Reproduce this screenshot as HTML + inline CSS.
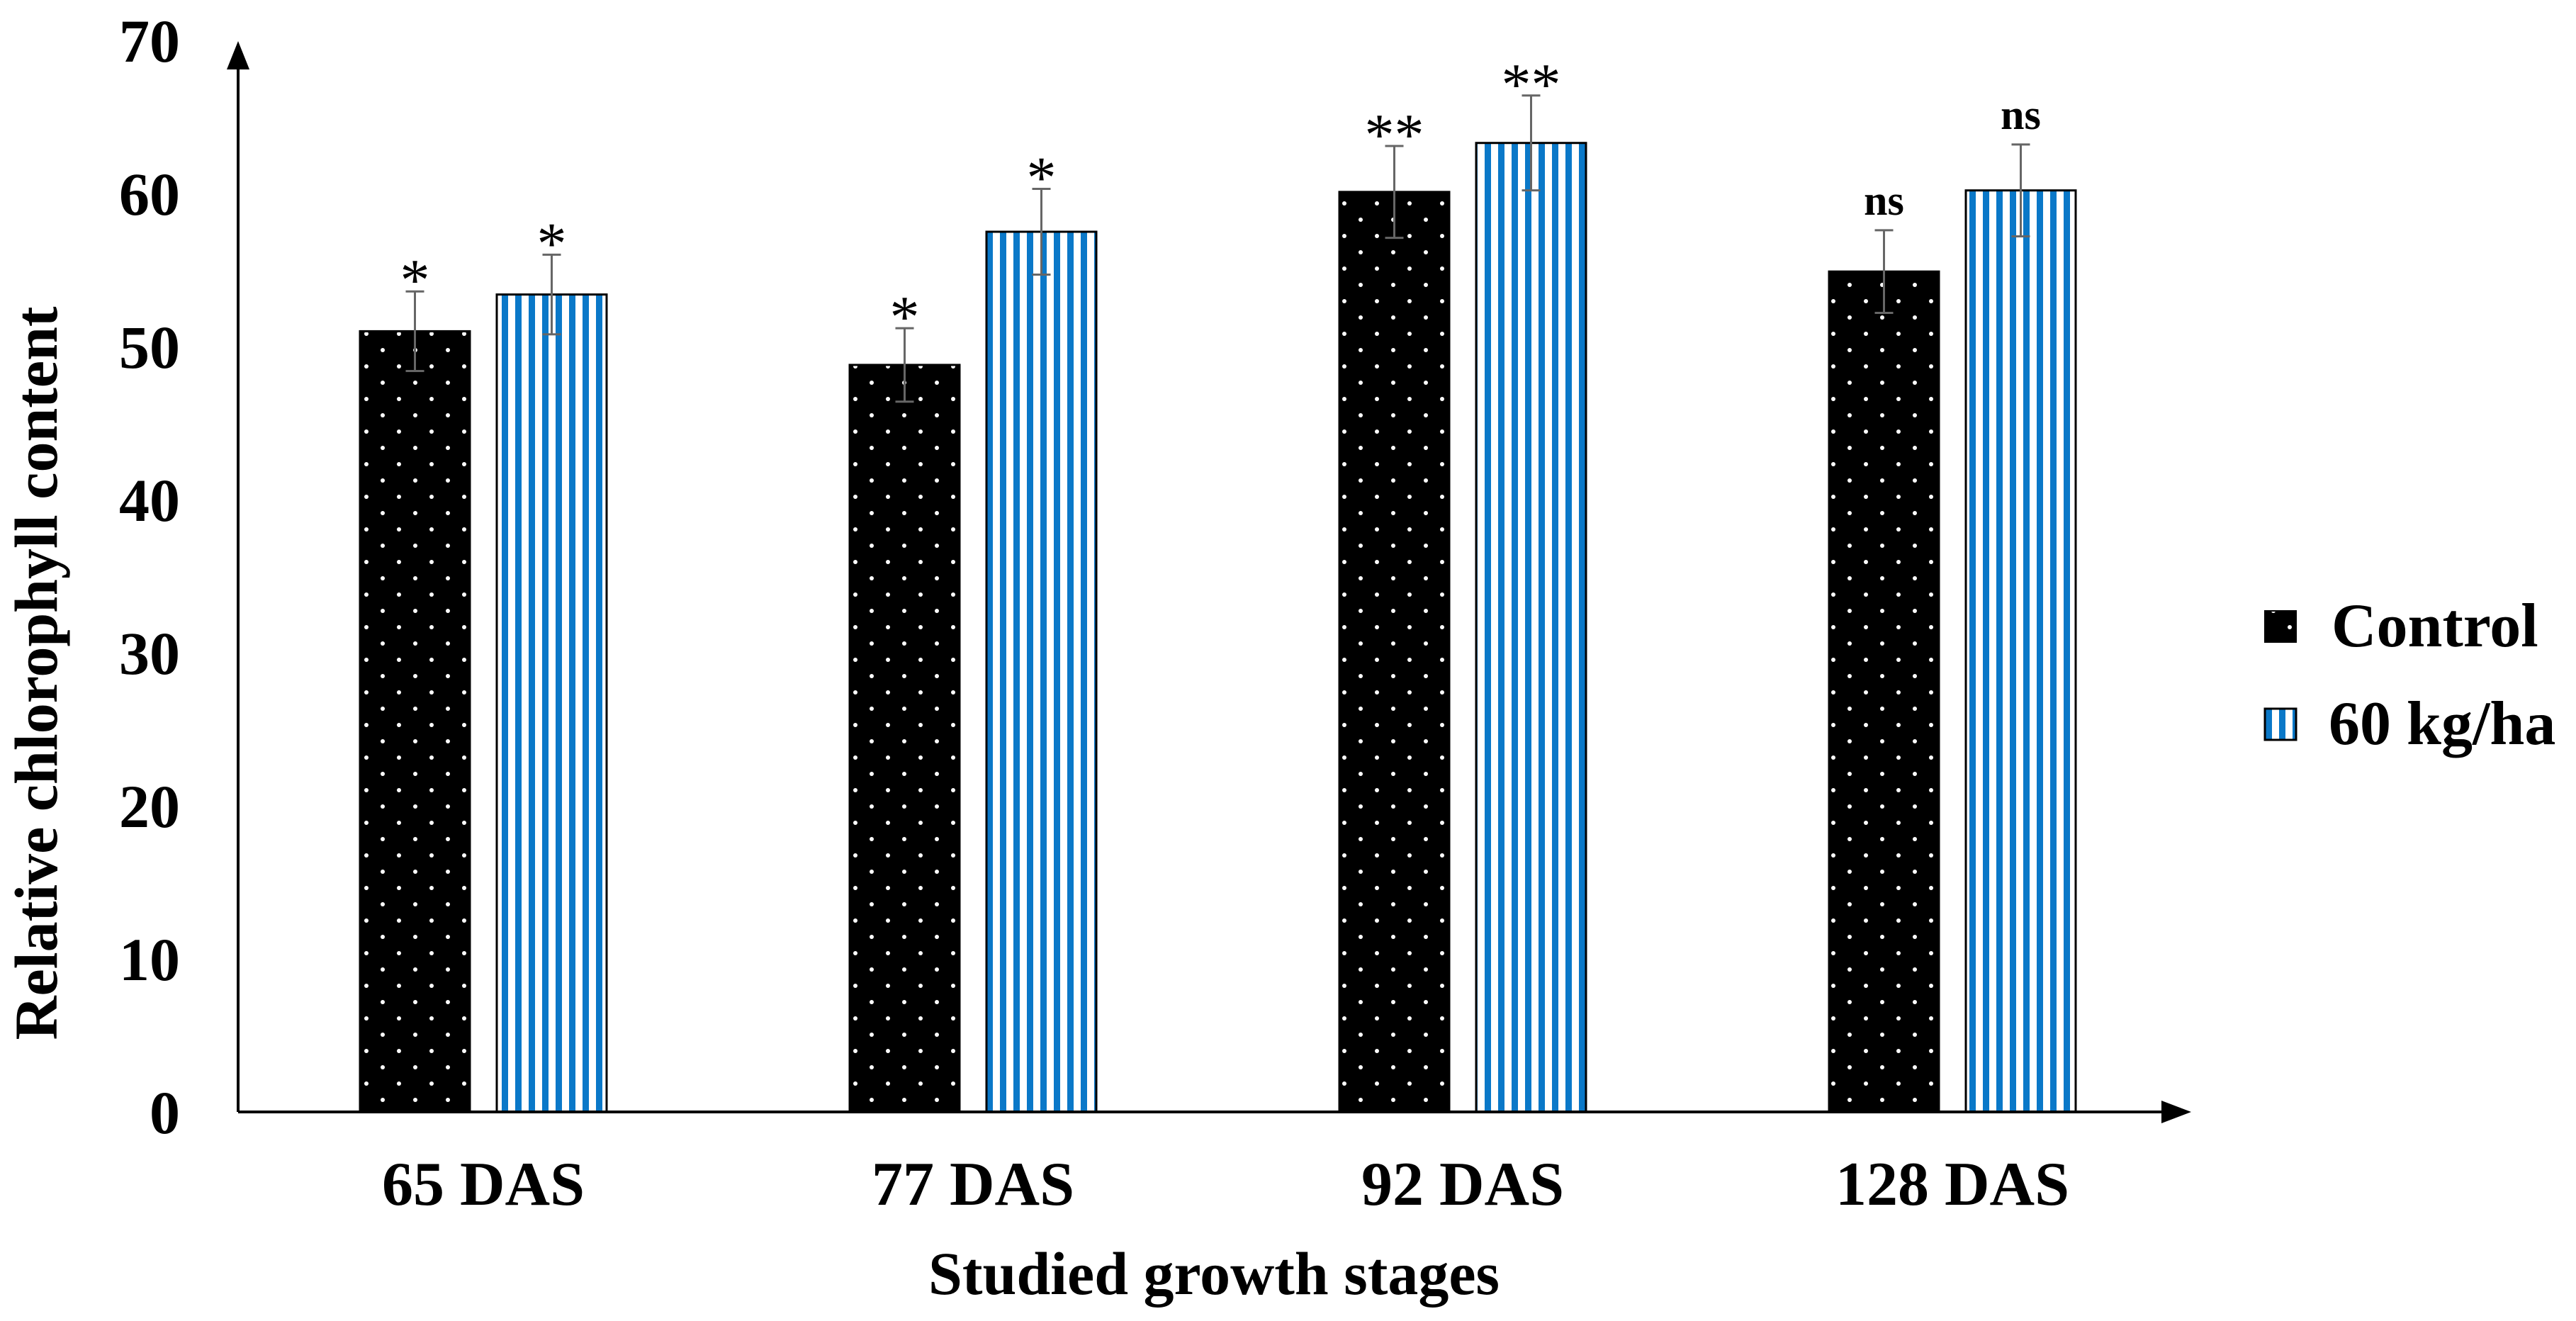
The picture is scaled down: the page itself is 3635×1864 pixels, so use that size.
<!DOCTYPE html>
<html><head><meta charset="utf-8"><style>
html,body{margin:0;padding:0;background:#fff;}
svg{display:block;font-family:"Liberation Serif",serif;}
</style></head><body>
<svg id="chart" width="3635" height="1864" viewBox="0 0 3635 1864" xmlns="http://www.w3.org/2000/svg">
<defs>
<pattern id="dots" width="46" height="46" patternUnits="userSpaceOnUse" x="0" y="0">
<rect width="46" height="46" fill="#000"/>
<circle cx="11" cy="11" r="3" fill="#fff"/>
<circle cx="34" cy="34" r="3" fill="#fff"/>
</pattern>
<pattern id="stripes" width="19" height="20" patternUnits="userSpaceOnUse">
<rect width="19" height="20" fill="#fff"/>
<rect x="5" width="9" height="20" fill="#0a78c8"/>
</pattern>
</defs>
<g id="plot"></g>
<text transform="translate(80,950) rotate(-90)" text-anchor="middle" font-weight="bold" font-size="86">Relative chlorophyll content</text>
<text x="1713" y="1826" text-anchor="middle" font-weight="bold" font-size="86">Studied growth stages</text>
<g>
<g>
<rect x="3196" y="862" width="44" height="44" fill="url(#dots)" stroke="#000" stroke-width="2"/>
<text x="3290" y="912" font-weight="bold" font-size="88">Control</text>
</g>
<g>
<rect x="3196" y="1000" width="44" height="44" fill="url(#stripes)" stroke="#000" stroke-width="3"/>
<text x="3286" y="1050" font-weight="bold" font-size="88">60 kg/ha</text>
</g>
</g>
</svg>
<script>
const categories = ["65 DAS","77 DAS","92 DAS","128 DAS"];
const controlValues = [51.0, 48.8, 60.1, 54.9];
const controlErrors = [2.6, 2.4, 3.0, 2.7];
const treatValues = [53.4, 57.5, 63.3, 60.2];
const treatErrors = [2.6, 2.8, 3.1, 3.0];
const controlSig = ["*","*","**","ns"];
const treatSig = ["*","*","**","ns"];
const yTicks = [0,10,20,30,40,50,60,70];

const NS="http://www.w3.org/2000/svg";
const g=document.getElementById('plot');
const x0=336, y0=1569, pxPer=21.6;
const y=v=>y0-v*pxPer;
const groupX=i=>682+i*691;
const bw=155, gap=38;
function el(t,a){const e=document.createElementNS(NS,t);for(const k in a)e.setAttribute(k,a[k]);g.appendChild(e);return e;}

yTicks.forEach(t=>{
  const tx=el('text',{x:254,y:y(t)+30,'text-anchor':'end','font-size':'86','font-weight':'bold'});
  tx.textContent=t;
  
  
});

function drawBar(cx,v,err,sig,fill,name){
  const r=el('rect',{x:cx-bw/2,y:y(v),width:bw,height:y0-y(v),fill:fill,stroke:'#000','stroke-width':3});
  
  
  const top=y(v+err), bot=y(v-err);
  const eb=el('path',{d:`M${cx} ${top}V${bot}M${cx-13} ${top}H${cx+13}M${cx-13} ${bot}H${cx+13}`,stroke:'#666','stroke-width':3,fill:'none'});
  
  
  const s=el('text',{x:cx,y:top-(sig==='ns'?22:-12),'text-anchor':'middle','font-size':sig==='ns'?'60':'84','font-weight':sig==='ns'?'bold':'normal'});
  s.textContent=sig;
  
  
}
categories.forEach((c,i)=>{
  const gx=groupX(i);
  drawBar(gx-gap/2-bw/2,controlValues[i],controlErrors[i],controlSig[i],'url(#dots)','bar-control-'+i);
  drawBar(gx+gap/2+bw/2,treatValues[i],treatErrors[i],treatSig[i],'url(#stripes)','bar-60kg-'+i);
  const t=el('text',{x:gx,y:1700,'text-anchor':'middle','font-size':'88','font-weight':'bold'});
  t.textContent=c;
  
  
});
const ax=el('path',{d:`M${x0} ${y0}V92M${x0} ${y0}H3060`,stroke:'#000','stroke-width':4,fill:'none'});


const ah1=el('path',{d:`M${x0-16} 98L${x0} 58L${x0+16} 98Z`,fill:'#000'});


const ah2=el('path',{d:`M3050 ${y0-16}L3092 ${y0}L3050 ${y0+16}Z`,fill:'#000'});


</script>
</body></html>
